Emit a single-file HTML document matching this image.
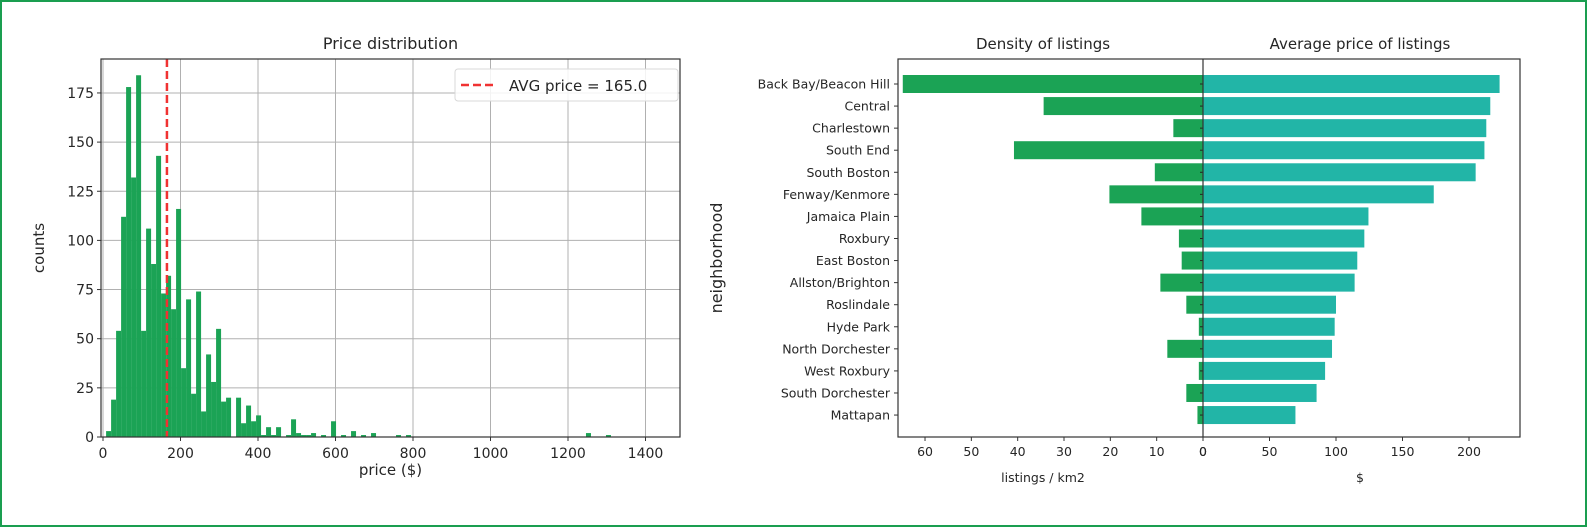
<!DOCTYPE html>
<html><head><meta charset="utf-8">
<style>
html,body{margin:0;padding:0;background:#fff;}
svg{display:block;font-family:"DejaVu Sans","Liberation Sans",sans-serif;}
</style></head>
<body>
<svg id="chart" width="1587" height="527" viewBox="0 0 1587 527">
<rect x="1" y="1" width="1585" height="525" fill="#fff" stroke="#1a9e50" stroke-width="2"/>
<g id="left"></g>
<g id="right"></g>
</svg>
<script>
// ---- histogram data ----
const binStart = 8;
const binWidth = 12.9;
const histCounts = [3,19,54,112,178,132,184,54,106,88,143,73,82,65,116,35,70,22,74,13,42,28,55,18,20,0,20,7,16,8,11,1,5,1,5,0,1,9,2,1,1,2,0,1,0,8,0,1,0,3,0,1,0,2,0,0,0,0,1,0,1,0,0,0,0,0,0,0,0,0,0,0,0,0,0,0,0,0,0,0,0,0,0,0,0,0,0,0,0,0,0,0,0,0,0,0,2,0,0,0,1];
const avgPrice = 165.0;
const xTicks = [0,200,400,600,800,1000,1200,1400];
const yTicks = [0,25,50,75,100,125,150,175];
// ---- neighborhood data ----
const hoods = ["Back Bay/Beacon Hill","Central","Charlestown","South End","South Boston","Fenway/Kenmore","Jamaica Plain","Roxbury","East Boston","Allston/Brighton","Roslindale","Hyde Park","North Dorchester","West Roxbury","South Dorchester","Mattapan"];
const density = [64.8,34.4,6.4,40.8,10.4,20.2,13.3,5.2,4.6,9.2,3.6,0.9,7.7,0.9,3.6,1.2];
const avgPrices = [223,216,213,211.6,205,173.5,124.4,121.3,116,114,100,99,97,91.8,85.4,69.5];
const densTicks = [60,50,40,30,20,10,0];
const priceTicks = [0,50,100,150,200];

const NS = "http://www.w3.org/2000/svg";
function mk(parent, tag, attrs, text){
  const e = document.createElementNS(NS, tag);
  for (const k in attrs) e.setAttribute(k, attrs[k]);
  if (text !== undefined) e.textContent = text;
  parent.appendChild(e);
  return e;
}
const GREEN = "#1ba355", TEAL = "#22b5a7", TXT = "#262626";

// ---------- left chart ----------
const L = document.getElementById('left');
const lx0 = 101, lx1 = 680, ly0 = 59, ly1 = 437;
const xS = v => 103 + v * 0.3875;
const yS = v => 437 - v * 1.966;
mk(L,'text',{x:(lx0+lx1)/2,y:49,'text-anchor':'middle','font-size':16,fill:TXT}, 'Price distribution');
xTicks.forEach(t=>{
  const g = mk(L,'line',{x1:xS(t),x2:xS(t),y1:ly0,y2:ly1,stroke:'#b0b0b0','stroke-width':1});
  
  
  mk(L,'line',{x1:xS(t),x2:xS(t),y1:ly1,y2:ly1+4,stroke:'#333'});
  const tl = mk(L,'text',{x:xS(t),y:ly1+21,'text-anchor':'middle','font-size':14,fill:TXT}, String(t));
  
  
});
yTicks.forEach(t=>{
  const g = mk(L,'line',{x1:lx0,x2:lx1,y1:yS(t),y2:yS(t),stroke:'#b0b0b0','stroke-width':1});
  
  
  mk(L,'line',{x1:lx0-4,x2:lx0,y1:yS(t),y2:yS(t),stroke:'#333'});
  const tl = mk(L,'text',{x:lx0-7,y:yS(t)+5,'text-anchor':'end','font-size':14,fill:TXT}, String(t));
  
  
});
histCounts.forEach((c,i)=>{
  if (c <= 0) return;
  const a = binStart + i*binWidth, b = a + binWidth;
  const r = mk(L,'rect',{x:xS(a),y:yS(c),width:xS(b)-xS(a),height:yS(0)-yS(c),fill:GREEN});
  
  
});
const avg = mk(L,'line',{x1:xS(avgPrice),x2:xS(avgPrice),y1:ly0,y2:ly1,stroke:'#f03232','stroke-width':2.5,'stroke-dasharray':'8,4'});


mk(L,'rect',{x:lx0,y:ly0,width:lx1-lx0,height:ly1-ly0,fill:'none',stroke:'#333','stroke-width':1.2});
const lg = mk(L,'g',{});


mk(lg,'rect',{x:455,y:69,width:223,height:32,rx:3,fill:'#fff','fill-opacity':0.85,stroke:'#d8d8d8'});
mk(lg,'line',{x1:461,x2:495,y1:85,y2:85,stroke:'#f03232','stroke-width':2.5,'stroke-dasharray':'8,4'});
mk(lg,'text',{x:509,y:91,'font-size':15,fill:TXT}, 'AVG price = 165.0');
mk(L,'text',{x:(lx0+lx1)/2,y:475,'text-anchor':'middle','font-size':15,fill:TXT}, 'price ($)');
mk(L,'text',{x:0,y:0,'text-anchor':'middle','font-size':15,fill:TXT,transform:'translate(44,'+((ly0+ly1)/2)+') rotate(-90)'}, 'counts');

// ---------- right chart ----------
const R = document.getElementById('right');
const rx0 = 898, rx1 = 1520, ry0 = 59, ry1 = 437, cx = 1203;
const dS = v => cx - v * 4.633;
const pS = v => cx + v * 1.33;
const rowY = i => 84 + i * 22.07;
const bh = 18;
mk(R,'text',{x:1043,y:49,'text-anchor':'middle','font-size':15,fill:TXT}, 'Density of listings');
mk(R,'text',{x:1360,y:49,'text-anchor':'middle','font-size':15,fill:TXT}, 'Average price of listings');
hoods.forEach((h,i)=>{
  const y = rowY(i);
  const d = mk(R,'rect',{x:dS(density[i]),y:y-bh/2,width:cx-dS(density[i]),height:bh,fill:GREEN});
  
  
  const p = mk(R,'rect',{x:cx,y:y-bh/2,width:pS(avgPrices[i])-cx,height:bh,fill:TEAL});
  
  
  mk(R,'line',{x1:rx0-4,x2:rx0,y1:y,y2:y,stroke:'#333'});
  mk(R,'line',{x1:cx-3,x2:cx,y1:y,y2:y,stroke:'#222'});
  const t = mk(R,'text',{x:rx0-8,y:y+4.5,'text-anchor':'end','font-size':12.5,fill:TXT}, h);
  
  
});
mk(R,'line',{x1:cx,x2:cx,y1:ry0,y2:ry1,stroke:'#333','stroke-width':1.2});
mk(R,'rect',{x:rx0,y:ry0,width:rx1-rx0,height:ry1-ry0,fill:'none',stroke:'#333','stroke-width':1.2});
densTicks.forEach(t=>{
  mk(R,'line',{x1:dS(t),x2:dS(t),y1:ry1,y2:ry1+4,stroke:'#333'});
  const tl = mk(R,'text',{x:dS(t),y:ry1+19,'text-anchor':'middle','font-size':12.5,fill:TXT}, String(t));
  
  
});
priceTicks.forEach(t=>{
  mk(R,'line',{x1:pS(t),x2:pS(t),y1:ry1,y2:ry1+4,stroke:'#333'});
  const tl = mk(R,'text',{x:pS(t),y:ry1+19,'text-anchor':'middle','font-size':12.5,fill:TXT}, String(t));
  
  
});
mk(R,'text',{x:1043,y:482,'text-anchor':'middle','font-size':12.5,fill:TXT}, 'listings / km2');
mk(R,'text',{x:1360,y:482,'text-anchor':'middle','font-size':12.5,fill:TXT}, '$');
mk(R,'text',{x:0,y:0,'text-anchor':'middle','font-size':16,fill:TXT,transform:'translate(722,'+((ry0+ry1)/2+10)+') rotate(-90)'}, 'neighborhood');
</script>
</body></html>
